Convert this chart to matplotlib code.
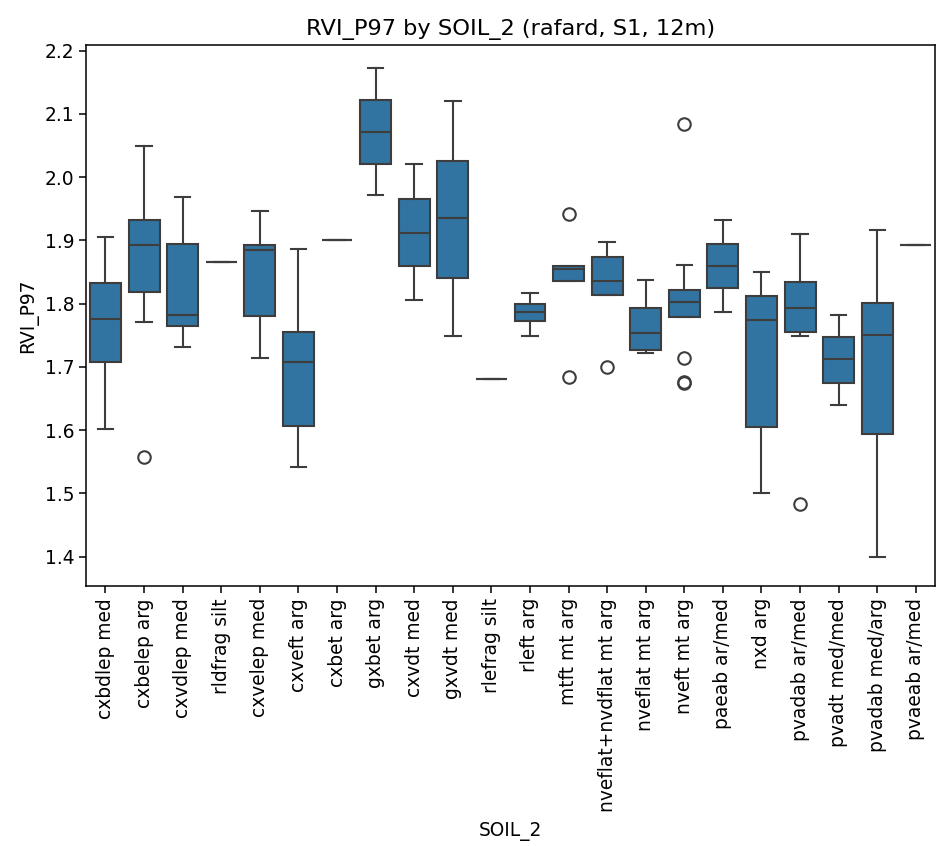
import numpy as np
import matplotlib
matplotlib.use("Agg")
import matplotlib.pyplot as plt

# box stats (RVI_P97 per SOIL_2 class)
soils = ["cxbdlep med", "cxbelep arg", "cxvdlep med", "rldfrag silt", "cxvelep med",
         "cxveft arg", "cxbet arg", "gxbet arg", "cxvdt med", "gxvdt med",
         "rlefrag silt", "rleft arg", "mtft mt arg", "nveflat+nvdflat mt arg",
         "nveflat mt arg", "nveft mt arg", "paeab ar/med", "nxd arg",
         "pvadab ar/med", "pvadt med/med", "pvadab med/arg", "pvaeab ar/med"]
whislo = [1.601, 1.771, 1.731, 1.865, 1.714, 1.541, 1.901, 1.972, 1.806, 1.748,
          1.680, 1.748, 1.836, 1.814, 1.722, 1.779, 1.786, 1.501, 1.749, 1.640, 1.399, 1.892]
q1 = [1.708, 1.819, 1.765, 1.865, 1.780, 1.607, 1.901, 2.020, 1.859, 1.841,
      1.680, 1.772, 1.836, 1.814, 1.726, 1.779, 1.824, 1.605, 1.755, 1.675, 1.594, 1.892]
med = [1.776, 1.892, 1.782, 1.865, 1.884, 1.708, 1.901, 2.071, 1.912, 1.935,
       1.680, 1.786, 1.855, 1.835, 1.754, 1.802, 1.860, 1.774, 1.793, 1.712, 1.751, 1.892]
q3 = [1.832, 1.932, 1.894, 1.865, 1.892, 1.755, 1.901, 2.122, 1.965, 2.026,
      1.680, 1.799, 1.859, 1.874, 1.793, 1.822, 1.894, 1.8125, 1.834, 1.747, 1.801, 1.892]
whishi = [1.905, 2.049, 1.968, 1.865, 1.947, 1.886, 1.901, 2.173, 2.020, 2.120,
          1.680, 1.816, 1.859, 1.898, 1.837, 1.861, 1.932, 1.850, 1.910, 1.782, 1.916, 1.892]
fliers = [[], [1.558], [], [], [], [], [], [], [], [],
          [], [], [1.942, 1.684], [1.700], [], [2.084, 1.714, 1.674, 1.676], [], [],
          [1.483], [], [], []]

stats = []
for i, name in enumerate(soils):
    stats.append(dict(label=name, whislo=whislo[i], q1=q1[i], med=med[i],
                      q3=q3[i], whishi=whishi[i], fliers=fliers[i]))

line_c = "#3d3d3d"
fig = plt.figure(figsize=(9.37, 8.46), dpi=100)
ax = fig.add_axes([0.092, 0.307, 0.906, 0.640])
ax.bxp(stats, positions=np.arange(len(soils)), widths=0.8, patch_artist=True,
       boxprops=dict(facecolor="#3274a1", edgecolor=line_c, linewidth=1.5),
       medianprops=dict(color=line_c, linewidth=1.5),
       whiskerprops=dict(color=line_c, linewidth=1.5),
       capprops=dict(color=line_c, linewidth=1.5),
       flierprops=dict(marker="o", markerfacecolor="none", markeredgecolor=line_c,
                       markersize=9, markeredgewidth=1.5),
       capwidths=0.4)

ax.set_xlim(-0.5, len(soils) - 0.5)
ax.set_ylim(1.353, 2.209)
ax.set_xticks(np.arange(len(soils)))
ax.set_xticklabels(soils, rotation=90, fontsize=13.4)
ax.tick_params(axis="y", labelsize=13.4)
ax.tick_params(length=5, width=1.1)
for s in ax.spines.values():
    s.set_linewidth(1.1)
ax.set_xlabel("SOIL_2", fontsize=13.4, labelpad=7)
ax.set_ylabel("RVI_P97", fontsize=13.4, labelpad=5)
ax.set_title("RVI_P97 by SOIL_2 (rafard, S1, 12m)", fontsize=16.2, pad=7)

fig.savefig("out.png", dpi=100)
